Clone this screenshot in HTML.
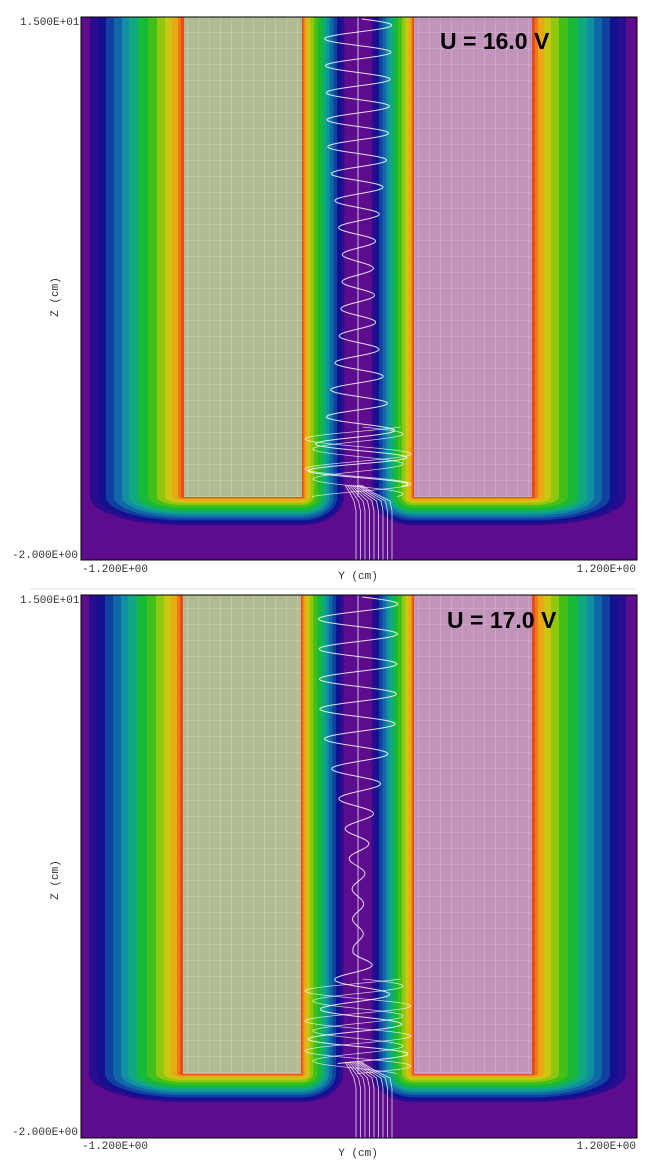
<!DOCTYPE html>
<html><head><meta charset="utf-8"><style>
html,body{margin:0;padding:0;background:#fff;}
svg{display:block}
.t{font-family:"Liberation Mono",monospace;font-size:11px;fill:#333}
.u{font-family:"Liberation Sans",sans-serif;font-size:23px;font-weight:bold;fill:#000}
</style></head><body>
<svg id="s" width="653" height="1168" viewBox="0 0 653 1168" xmlns="http://www.w3.org/2000/svg">
<defs>
<pattern id="g1" width="11" height="16" patternUnits="userSpaceOnUse"><rect width="11" height="16" fill="#b1bb91"/><path d="M0 0V16M0 0H11" stroke="#cdd3b5" stroke-width="1"/></pattern>
<pattern id="g2" width="11" height="16" patternUnits="userSpaceOnUse"><rect width="11" height="16" fill="#c293bb"/><path d="M0 0V16M0 0H11" stroke="#d7b5d2" stroke-width="1"/></pattern>
</defs>
<line x1="30" y1="589" x2="636" y2="589" stroke="#e4e4e4"/>
<text class="t" x="20" y="25">1.500E+01</text>
<text class="t" x="12" y="558">-2.000E+00</text>
<text class="t" x="82" y="572">-1.200E+00</text>
<text class="t" x="636" y="572" text-anchor="end">1.200E+00</text>
<text class="t" x="358" y="579" text-anchor="middle">Y (cm)</text>
<text class="t" x="58" y="297" text-anchor="middle" transform="rotate(-90 58 297)">Z (cm)</text>
<text class="t" x="20" y="603">1.500E+01</text>
<text class="t" x="12" y="1135">-2.000E+00</text>
<text class="t" x="82" y="1149">-1.200E+00</text>
<text class="t" x="636" y="1149" text-anchor="end">1.200E+00</text>
<text class="t" x="358" y="1156" text-anchor="middle">Y (cm)</text>
<text class="t" x="58" y="880" text-anchor="middle" transform="rotate(-90 58 880)">Z (cm)</text>
<g id="p1"></g><g id="p2"></g>
<text class="u" x="440" y="49">U = 16.0 V</text>
<text class="u" x="447" y="628">U = 17.0 V</text>
</svg>
<script>
var NS="http://www.w3.org/2000/svg";
var bands=[[94,"#2a0c8e"],[86,"#141090"],[78,"#1040a0"],[70,"#1068a8"],[62,"#108ea2"],[55,"#10a880"],[46,"#18b838"],[36,"#40c018"],[27,"#90c810"],[19,"#ccc610"],[12,"#e8aa14"],[6,"#f07818"],[3,"#ec4a18"],[0.01,"#e4301a"]];
function el(p,t,a){var e=document.createElementNS(NS,t);for(var k in a)e.setAttribute(k,a[k]);p.appendChild(e);return e;}
function panel(g,top,bot,L,R,ey,amp,bund){
 el(g,"rect",{x:81,y:top,width:556,height:bot-top,fill:"#5c0c8c"});
 var cl=document.createElementNS(NS,"clipPath");cl.id="c"+top;g.appendChild(cl);
 el(cl,"rect",{x:81,y:top,width:556,height:bot-top});
 var h=el(g,"g",{"clip-path":"url(#c"+top+")"});
 var es=[[L,L+118,1,0.45],[R,R+118,0.45,1]];
 bands.forEach(function(b){var d=b[0];es.forEach(function(e){
  var a=d*e[2],c=d*e[3],bb=d*0.3,x1=e[0],x2=e[1];
  el(h,"path",{fill:b[1],d:"M"+(x1-a)+" "+(top-5)+"L"+(x1-a)+" "+ey+"A"+a+" "+bb+" 0 0 0 "+x1+" "+(ey+bb)+"L"+x2+" "+(ey+bb)+"A"+c+" "+bb+" 0 0 0 "+(x2+c)+" "+ey+"L"+(x2+c)+" "+(top-5)+"Z"});});});
 el(h,"rect",{x:L,y:top,width:118,height:ey-top,fill:"url(#g1)"});
 el(h,"rect",{x:R,y:top,width:118,height:ey-top,fill:"url(#g2)"});
 var cx=358,pts=[],ph=0;
 for(var y=top+2;y<ey-10;y+=0.5){var P=amp.P(y);ph+=0.5/P*2*Math.PI;pts.push((cx+amp.A(y)*Math.sin(ph)).toFixed(1)+","+y);}
 el(h,"polyline",{points:pts.join(" "),fill:"none",stroke:"#fff","stroke-width":1,opacity:0.85});
 el(h,"line",{x1:cx,y1:top,x2:cx,y2:ey,stroke:"#fff","stroke-width":1,opacity:0.7});
 for(var k=0;k<2;k++){var q=[],ph2=k*2.1;for(var y=ey-bund;y<ey;y+=0.5){ph2+=0.5/30*2*Math.PI;q.push((cx+(45+k*8)*Math.sin(ph2)).toFixed(1)+","+y);}
  el(h,"polyline",{points:q.join(" "),fill:"none",stroke:"#fff","stroke-width":0.8,opacity:0.75});}
 for(var i=0;i<9;i++){var xb=356+i*4.5;el(h,"polyline",{points:(345+i*2)+","+(ey-12)+" "+(350+i*3)+","+(ey-4)+" "+(xb-2)+","+(ey+4)+" "+xb+","+(ey+14)+" "+xb+","+bot,fill:"none",stroke:"#fff","stroke-width":0.8,opacity:0.85});}
 el(g,"rect",{x:81,y:top,width:556,height:bot-top,fill:"none",stroke:"#000","stroke-width":1});
}
function lerp(pts,y){for(var i=0;i<pts.length-1;i++){if(y<=pts[i+1][0]){var t=(y-pts[i][0])/(pts[i+1][0]-pts[i][0]);return pts[i][1]+t*(pts[i+1][1]-pts[i][1]);}}return pts[pts.length-1][1];}
panel(document.getElementById("p1"),17,560,184,414,497,
 {A:function(y){return lerp([[17,34],[150,30],[260,15],[330,18],[420,32],[460,50],[500,50]],y);},P:function(y){return 27;}},70);
panel(document.getElementById("p2"),595,1138,183,414,1074,
 {A:function(y){return lerp([[595,40],[720,38],[820,14],[880,6],[950,5],[990,30],[1040,50],[1080,50]],y);},P:function(y){return 30;}},95);
</script>
</body></html>
